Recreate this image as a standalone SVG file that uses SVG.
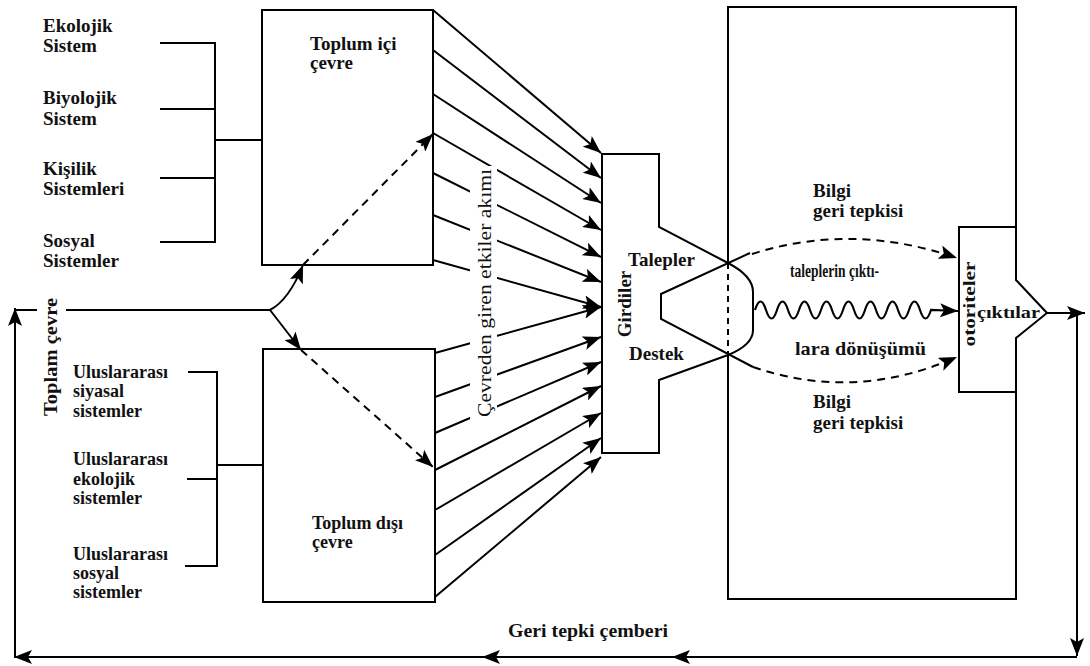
<svg xmlns="http://www.w3.org/2000/svg" width="1090" height="666" viewBox="0 0 1090 666">
<style>
.ln{stroke:#000;stroke-width:2;fill:none}
.dash{stroke-dasharray:8 6}
.t{font-family:"Liberation Serif","Times New Roman",serif;font-weight:bold;font-size:19px;fill:#111}
.s{font-size:18px}
.tn{font-family:"Liberation Serif","Times New Roman",serif;font-size:18px;fill:#111}
</style>
<defs>
<marker id="ah" markerUnits="userSpaceOnUse" markerWidth="19" markerHeight="14" refX="18" refY="7" orient="auto">
<path d="M0,0 L18,7 L0,14 L4,7 Z" fill="#000"/>
</marker>
</defs>
<rect width="1090" height="666" fill="#fff"/>

<g id="connectors">
<path class="ln" d="M160,43 H215 V242 H160 M160,109 H215 M160,178 H215 M215,140 H262"/>
<path class="ln" d="M188,372 H217 V566 H185 M187,479 H217 M217,465 H263"/>
<g class="ln" marker-end="url(#ah)">
<line x1="433" y1="10" x2="601" y2="153"/>
<line x1="433" y1="50" x2="601" y2="178"/>
<line x1="433" y1="94" x2="601" y2="203"/>
<line x1="433" y1="133" x2="601" y2="230"/>
<line x1="433" y1="173" x2="601" y2="257"/>
<line x1="433" y1="215" x2="601" y2="282"/>
<line x1="433" y1="260" x2="601" y2="307"/>
<line x1="435" y1="353" x2="601" y2="307"/>
<line x1="435" y1="397" x2="601" y2="337"/>
<line x1="435" y1="433" x2="601" y2="362"/>
<line x1="435" y1="470" x2="601" y2="386"/>
<line x1="435" y1="510" x2="601" y2="413"/>
<line x1="435" y1="555" x2="601" y2="438"/>
<line x1="435" y1="597" x2="601" y2="457"/>
</g>
<path class="ln" d="M66,310 H270"/>
<path class="ln" d="M15,310 H37"/>
<path class="ln" d="M270,310 Q289,300 303,265" marker-end="url(#ah)"/>
<path class="ln" d="M270,310 L301,350" marker-end="url(#ah)"/>
<path class="ln dash" d="M303,265 L433,134" marker-end="url(#ah)"/>
<path class="ln dash" d="M301,350 L433,467" marker-end="url(#ah)"/>
<path class="ln dash" d="M752,254 Q852,222 957,258" marker-end="url(#ah)"/>
<path class="ln dash" d="M753,367 Q855,402 957,357" marker-end="url(#ah)"/>
<path class="ln" style="stroke-width:2.2" d="M755,310 q5.5,-17 11,0 t11,0 t11,0 t11,0 t11,0 t11,0 t11,0 t11,0 t11,0 t11,0 t11,0 t11,0 t11,0 t11,0 t11,0 t11,0 L958,311" marker-end="url(#ah)"/>
<path class="ln" d="M1047,313 H1085" marker-end="url(#ah)"/>
<path class="ln" d="M1077,313 V656" marker-end="url(#ah)"/>
<path class="ln" d="M1077,657 H672" marker-end="url(#ah)"/>
<path class="ln" d="M672,657 H482" marker-end="url(#ah)"/>
<path class="ln" d="M482,657 H14" marker-end="url(#ah)"/>
<path class="ln" d="M15,657 V308" marker-end="url(#ah)"/>
</g>

<g id="label-flow">
<rect x="470" y="166" width="27" height="254" fill="#fff"/>
<text class="tn" transform="translate(491,293) rotate(-90)" text-anchor="middle" textLength="248" lengthAdjust="spacingAndGlyphs">Çevreden giren etkiler akımı</text>
</g>

<g id="toplam-cevre">
<text class="t" transform="translate(57,357) rotate(-90)" text-anchor="middle" textLength="118" lengthAdjust="spacingAndGlyphs">Toplam çevre</text>
</g>

<g id="ekolojik"><text class="t" x="43" y="32">Ekolojik</text><text class="t" x="43" y="52">Sistem</text></g>
<g id="biyolojik"><text class="t" x="43" y="104">Biyolojik</text><text class="t" x="43" y="125">Sistem</text></g>
<g id="kisilik"><text class="t" x="43" y="175">Kişilik</text><text class="t" x="43" y="195">Sistemleri</text></g>
<g id="sosyal"><text class="t" x="43" y="247">Sosyal</text><text class="t" x="43" y="267">Sistemler</text></g>

<g id="ul-siyasal"><text class="t s" x="73" y="378">Uluslararası</text><text class="t s" x="73" y="397">siyasal</text><text class="t s" x="73" y="417">sistemler</text></g>
<g id="ul-ekolojik"><text class="t s" x="73" y="465">Uluslararası</text><text class="t s" x="73" y="485">ekolojik</text><text class="t s" x="73" y="504">sistemler</text></g>
<g id="ul-sosyal"><text class="t s" x="73" y="560">Uluslararası</text><text class="t s" x="73" y="579">sosyal</text><text class="t s" x="73" y="598">sistemler</text></g>

<g id="toplum-ici">
<rect class="ln" x="262" y="10" width="171" height="255"/>
<text class="t" x="310" y="50">Toplum içi</text>
<text class="t" x="310" y="69">çevre</text>
</g>

<g id="toplum-disi">
<rect class="ln" x="263" y="349" width="172" height="253"/>
<text class="t s" x="312" y="529">Toplum dışı</text>
<text class="t s" x="312" y="548">çevre</text>
</g>

<g id="girdiler">
<path class="ln" d="M602,154 H659 V227 L728,263 Q753,276 753,292 V330 Q753,345 728,355 L659,380 V453 H602 Z"/>
<path class="ln" d="M750,253 L661,294 V319 L753,367"/>
<text class="t" transform="translate(631,304) rotate(-90)" text-anchor="middle">Girdiler</text>
<text class="t" x="628" y="266">Talepler</text>
<text class="t" x="629" y="360">Destek</text>
</g>

<g id="sistem">
<path class="ln" d="M728,263 V7 H1016 V280 L1047,313 L1016,338 V599 H728 V355"/>
<path class="ln" d="M728,263 V355" style="stroke-dasharray:6 5"/>
<text class="t" x="813" y="197">Bilgi</text>
<text class="t" x="813" y="217">geri tepkisi</text>
<text class="t" x="790" y="277" style="font-size:18px" textLength="89" lengthAdjust="spacingAndGlyphs">taleplerin çıktı-</text>
<text class="t" x="795" y="355" textLength="131" lengthAdjust="spacingAndGlyphs">lara dönüşümü</text>
<text class="t" x="813" y="408">Bilgi</text>
<text class="t" x="813" y="429">geri tepkisi</text>
</g>

<g id="otoriteler">
<path class="ln" d="M1016,227 H959 V392 H1016"/>
<text class="t" transform="translate(975,304) rotate(-90)" text-anchor="middle" style="font-size:16px" textLength="85" lengthAdjust="spacingAndGlyphs">otoriteler</text>
<text class="t" x="977" y="318" style="font-size:17px" textLength="63" lengthAdjust="spacingAndGlyphs">çıktılar</text>
</g>

<g id="geri-tepki">
<text class="t" x="508" y="637" textLength="160" lengthAdjust="spacingAndGlyphs">Geri tepki çemberi</text>
</g>
</svg>
